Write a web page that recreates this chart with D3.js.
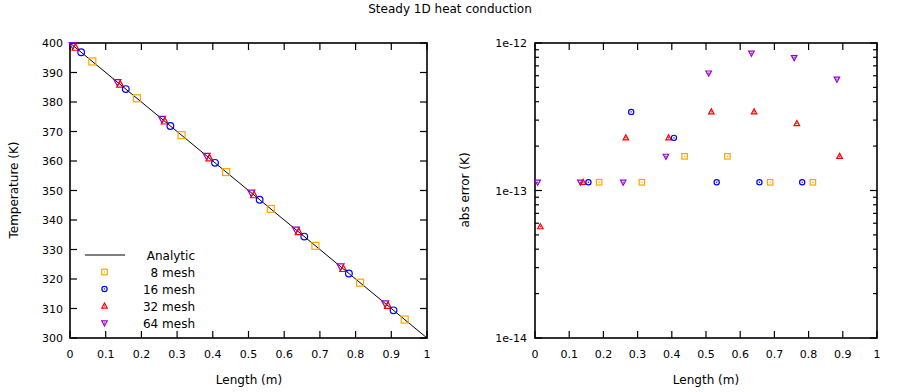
<!DOCTYPE html>
<html><head><meta charset="utf-8">
<script src="https://cdn.jsdelivr.net/npm/d3@7"></script>
<style>body{margin:0;background:#fff}text{font-family:"DejaVu Sans",sans-serif;fill:#000}</style>
</head><body><svg id="c" width="900" height="392"></svg>
<script>
const title = "Steady 1D heat conduction";
const xTicks = [0,0.1,0.2,0.3,0.4,0.5,0.6,0.7,0.8,0.9,1];
const tTicks = [300,310,320,330,340,350,360,370,380,390,400];
const errTicks = [1e-14,1e-13,1e-12];
const errTickLabels = ["1e-14","1e-13","1e-12"];
const seriesNames = ["8 mesh","16 mesh","32 mesh","64 mesh"];
const seriesColors = ["#ffa500","#0000ff","#ff0000","#9400d3"];
const seriesShapes = ["square","circle","tri","tridown"];
const analyticX = [0,1];
const analyticT = [400,300];
const x8  = [0.0625,0.1875,0.3125,0.4375,0.5625,0.6875,0.8125,0.9375];
const x16 = [0.03125,0.15625,0.28125,0.40625,0.53125,0.65625,0.78125,0.90625];
const x32 = [0.015625,0.140625,0.265625,0.390625,0.515625,0.640625,0.765625,0.890625];
const x64 = [0.0078125,0.1328125,0.2578125,0.3828125,0.5078125,0.6328125,0.7578125,0.8828125];
const T8  = [393.75,381.25,368.75,356.25,343.75,331.25,318.75,306.25];
const T16 = [396.875,384.375,371.875,359.375,346.875,334.375,321.875,309.375];
const T32 = [398.4375,385.9375,373.4375,360.9375,348.4375,335.9375,323.4375,310.9375];
const T64 = [399.21875,386.71875,374.21875,361.71875,349.21875,336.71875,324.21875,311.71875];
const err8  = [null,1.137e-13,1.137e-13,1.705e-13,1.705e-13,1.137e-13,1.137e-13,null];
const err16 = [null,1.137e-13,3.411e-13,2.274e-13,1.137e-13,1.137e-13,1.137e-13,null];
const err32 = [5.684e-14,1.137e-13,2.274e-13,2.274e-13,3.411e-13,3.411e-13,2.842e-13,1.705e-13];
const err64 = [1.137e-13,1.137e-13,1.137e-13,1.705e-13,6.253e-13,8.527e-13,7.958e-13,5.684e-13];

const xs = [x8,x16,x32,x64], Ts=[T8,T16,T32,T64], errs=[err8,err16,err32,err64];
const svg = d3.select("#c");
svg.append("text").attr("x",450).attr("y",13).attr("text-anchor","middle").style("font-size","12px").text(title);

function marker(g, shape, x, y, s, color, dot){
  const h=s/2;
  if(shape==="square") g.append("rect").attr("x",x-h).attr("y",y-h).attr("width",s).attr("height",s);
  else if(shape==="circle") g.append("circle").attr("cx",x).attr("cy",y).attr("r",h*0.95);
  else if(shape==="tri") g.append("path").attr("d",`M${x},${y-h*1.1}L${x+h},${y+h*0.75}L${x-h},${y+h*0.75}Z`);
  else g.append("path").attr("d",`M${x},${y+h*1.1}L${x+h},${y-h*0.75}L${x-h},${y-h*0.75}Z`);
  g.selectAll("*").attr("fill","none").attr("stroke",color).attr("stroke-width",1.2);
  if(dot) g.append("rect").attr("x",x-0.6).attr("y",y-0.6).attr("width",1.2).attr("height",1.2).attr("fill",color);
}

function frame(x,y){
  const [x0,x1]=x.range(), [y0,y1]=y.range();
  svg.append("rect").attr("x",x0).attr("y",y1).attr("width",x1-x0).attr("height",y0-y1)
    .attr("fill","none").attr("stroke","#000").attr("stroke-width",1.6);
  const g=svg.append("g").attr("stroke","#000").attr("stroke-width",1.2);
  xTicks.forEach(t=>{const px=x(t);
    g.append("line").attr("x1",px).attr("x2",px).attr("y1",y0).attr("y2",y0-7);
    g.append("line").attr("x1",px).attr("x2",px).attr("y1",y1).attr("y2",y1+7);
    svg.append("text").attr("x",px).attr("y",y0+20).attr("text-anchor","middle").style("font-size","11px").text(d3.format("")(t));
  });
}

// Left panel
const xL = d3.scaleLinear().domain([0,1]).range([70,427]);
const yL = d3.scaleLinear().domain([300,400]).range([338,43]);
frame(xL,yL);
const gl=svg.append("g").attr("stroke","#000").attr("stroke-width",1.2);
tTicks.forEach(t=>{const py=yL(t);
  gl.append("line").attr("x1",70).attr("x2",77).attr("y1",py).attr("y2",py);
  gl.append("line").attr("x1",427).attr("x2",420).attr("y1",py).attr("y2",py);
  svg.append("text").attr("x",63).attr("y",py+4).attr("text-anchor","end").style("font-size","11px").text(t);
});
svg.append("path").datum(analyticX.map((d,i)=>[d,analyticT[i]]))
  .attr("d",d3.line().x(d=>xL(d[0])).y(d=>yL(d[1]))).attr("fill","none").attr("stroke","#000").attr("stroke-width",1);
[3,2,1,0].forEach(k=>{
  xs[k].forEach((xv,i)=>marker(svg.append("g"),seriesShapes[k],xL(xv),yL(Ts[k][i]),7,seriesColors[k],false));
});
svg.append("text").attr("transform","translate(18,190) rotate(-90)").attr("text-anchor","middle").style("font-size","12px").text("Temperature (K)");
svg.append("text").attr("x",249).attr("y",384).attr("text-anchor","middle").style("font-size","12px").text("Length (m)");
// Legend
const legY=[255,272,289,306,323];
svg.append("line").attr("x1",85).attr("x2",125).attr("y1",legY[0]).attr("y2",legY[0]).attr("stroke","#000").attr("stroke-width",1);
svg.append("text").attr("x",195).attr("y",legY[0]+4.5).attr("text-anchor","end").style("font-size","12px").text("Analytic");
seriesNames.forEach((n,k)=>{
  marker(svg.append("g"),seriesShapes[k],104.5,legY[k+1],5.5,seriesColors[k],true);
  svg.append("text").attr("x",195).attr("y",legY[k+1]+4.5).attr("text-anchor","end").style("font-size","12px").text(n);
});

// Right panel
const xR = d3.scaleLinear().domain([0,1]).range([535,877]);
const yR = d3.scaleLog().domain([1e-14,1e-12]).range([338,43]);
frame(xR,yR);
const gr=svg.append("g").attr("stroke","#000").attr("stroke-width",1.2);
yR.ticks().forEach(t=>{const py=yR(t);
  const m=Math.round(t/Math.pow(10,Math.floor(Math.log10(t)+1e-9)));
  const len = m===1?7:4;
  gr.append("line").attr("x1",535).attr("x2",535+len).attr("y1",py).attr("y2",py);
  gr.append("line").attr("x1",877).attr("x2",877-len).attr("y1",py).attr("y2",py);
});
errTicks.forEach((t,i)=>svg.append("text").attr("x",527).attr("y",yR(t)+4).attr("text-anchor","end").style("font-size","11px").text(errTickLabels[i]));
[3,2,1,0].forEach(k=>{
  xs[k].forEach((xv,i)=>{const e=errs[k][i]; if(e==null) return;
    marker(svg.append("g"),seriesShapes[k],xR(xv),yR(e),5.5,seriesColors[k],true);});
});
svg.append("text").attr("transform","translate(469,190) rotate(-90)").attr("text-anchor","middle").style("font-size","12px").text("abs error (K)");
svg.append("text").attr("x",706).attr("y",384).attr("text-anchor","middle").style("font-size","12px").text("Length (m)");
</script></body></html>
